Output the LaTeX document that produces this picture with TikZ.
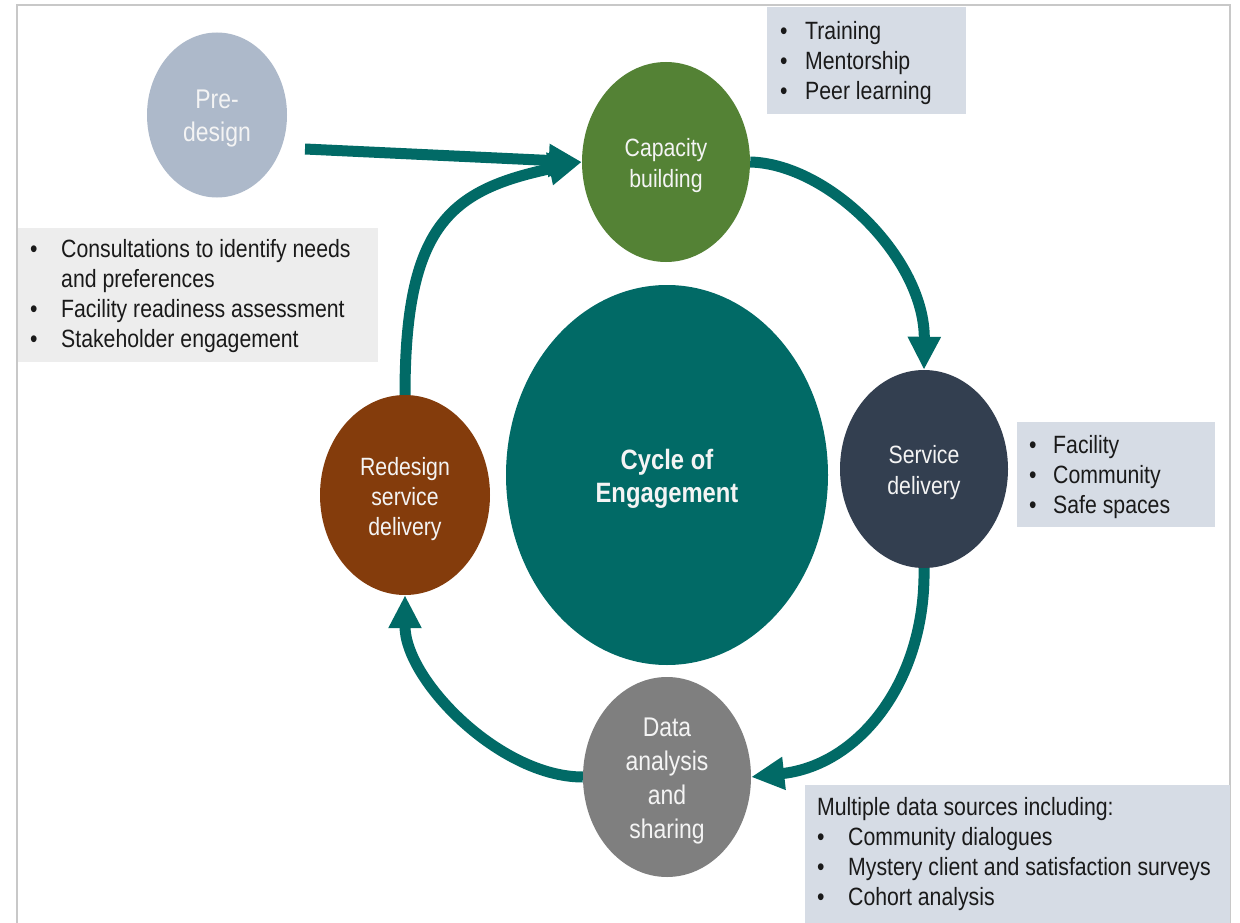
\documentclass[tikz,border=0pt]{standalone}
\usepackage{fontspec}
\setmainfont{Liberation Sans}[FakeStretch=0.85]
\usetikzlibrary{shapes.geometric,arrows.meta}
\pgfdeclarelayer{background}
\pgfsetlayers{background,main}
\definecolor{tealc}{HTML}{016A66}
\definecolor{greenc}{HTML}{548235}
\definecolor{navyc}{HTML}{333F50}
\definecolor{brownc}{HTML}{843C0C}
\definecolor{grayc}{HTML}{7F7F7F}
\definecolor{prec}{HTML}{ADB9CA}
\definecolor{boxblue}{HTML}{D6DCE5}
\definecolor{boxgray}{HTML}{EDEDED}
\definecolor{framec}{HTML}{C8C8C8}
\definecolor{txtc}{HTML}{1A1A1A}
\definecolor{softwhite}{HTML}{F4F4F4}
\begin{document}
\begin{tikzpicture}[x=1pt,y=1pt,
  circ/.style={ellipse, inner sep=0pt},
  ctext/.style={inner sep=0pt, align=center, text=softwhite, yshift=-4pt},
  smalltxt/.style={font={\fontsize{25pt}{31pt}\selectfont}},
  conn/.style={draw=tealc, line width=11pt, -{Triangle[length=33pt,width=31pt]}},
  infobox/.style={rectangle, inner sep=0pt, anchor=north west},
  listtxt/.style={inner sep=0pt, anchor=north west, text=txtc, font={\fontsize{25pt}{30pt}\selectfont}}]
\useasboundingbox (0,0) rectangle (1240,-923);
\begin{pgfonlayer}{background}
\fill[white] (0,0) rectangle (1240,-923);
\end{pgfonlayer}
% frame
\draw[framec, line width=2.5pt] (17,-923) -- (17,-5) -- (1230,-5) -- (1230,-923);

% info boxes
\node[infobox, fill=boxgray, minimum width=360pt, minimum height=134pt] (boxA) at (18,-228) {};
\node[infobox, fill=boxblue, minimum width=199pt, minimum height=107pt] (boxB) at (767,-7) {};
\node[infobox, fill=boxblue, minimum width=198pt, minimum height=105pt] (boxC) at (1017,-422) {};
\node[infobox, fill=boxblue, minimum width=425pt, minimum height=140pt] (boxD) at (805,-785) {};

\node[listtxt] (txtA) at (30,-236) {\begin{tabular}{@{}p{31pt}@{}l@{}}
•& Consultations to identify needs\\
 & and preferences\\
•& Facility readiness assessment\\
•& Stakeholder engagement
\end{tabular}};
\node[listtxt] (txtB) at (780,-18) {\begin{tabular}{@{}p{25pt}@{}l@{}}
•& Training\\
•& Mentorship\\
•& Peer learning
\end{tabular}};
\node[listtxt] (txtC) at (1029,-432) {\begin{tabular}{@{}p{24pt}@{}l@{}}
•& Facility\\
•& Community\\
•& Safe spaces
\end{tabular}};
\node[listtxt] (txtD) at (817,-794) {\begin{tabular}{@{}p{31pt}@{}l@{}}
\multicolumn{2}{@{}l@{}}{Multiple data sources including:}\\
•& Community dialogues\\
•& Mystery client and satisfaction surveys\\
•& Cohort analysis
\end{tabular}};

% ellipses
\node[circ, fill=prec, minimum width=140pt, minimum height=165pt] (pre) at (217,-115) {};
\node[circ, fill=greenc, minimum width=168pt, minimum height=200pt] (cap) at (666,-162) {};
\node[circ, fill=tealc, minimum width=322pt, minimum height=380pt] (cyc) at (667,-475) {};
\node[circ, fill=navyc, minimum width=168pt, minimum height=198pt] (serv) at (924,-469) {};
\node[circ, fill=grayc, minimum width=168pt, minimum height=200pt] (data) at (667,-777) {};
\node[circ, fill=brownc, minimum width=170pt, minimum height=200pt] (red) at (405,-495) {};

\node[ctext, font={\fontsize{27pt}{33pt}\selectfont}] (pret) at (pre) {Pre-\\design};
\node[ctext, smalltxt] (capt) at (cap) {Capacity\\building};
\node[ctext, font={\bfseries\fontsize{28pt}{33pt}\selectfont}] (cyct) at (cyc) {Cycle of\\Engagement};
\node[ctext, smalltxt] (servt) at (serv) {Service\\delivery};
\node[ctext, font={\fontsize{27pt}{34pt}\selectfont}] (datat) at (data) {Data\\analysis\\and\\sharing};
\node[ctext, font={\fontsize{25pt}{30pt}\selectfont}] (redt) at (red) {Redesign\\service\\delivery};

% connectors
\coordinate (s0) at (305,-149);
\begin{pgfonlayer}{background}
\draw[conn] (s0) -- (cap.west);
\draw[conn] (red.north) .. controls (405,-225) and (450,-190) .. (cap.west);
\draw[conn] (cap.east) .. controls (830,-164) and (925,-260) .. (serv.north);
\draw[conn] (serv.south) .. controls (926,-680) and (860,-765) .. (data.east);
\draw[conn] (data.west) .. controls (500,-777) and (405,-680) .. (red.south);
\end{pgfonlayer}
\end{tikzpicture}
\end{document}
